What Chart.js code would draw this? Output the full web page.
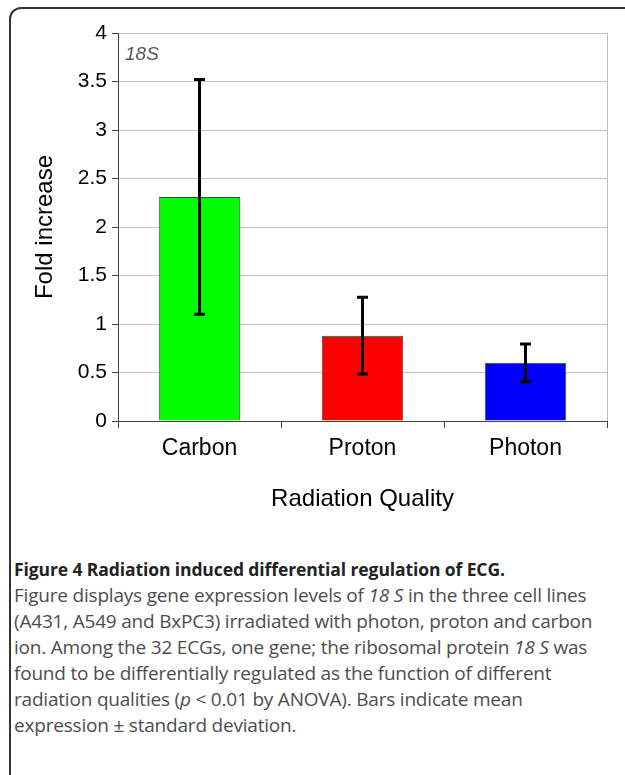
<!DOCTYPE html>
<html>
<head>
<meta charset="utf-8">
<script src="https://cdn.jsdelivr.net/npm/chart.js@4"></script>
<style>
  body { margin: 0; background: #fff; width: 625px; height: 775px; overflow: hidden; position: relative; }
  .frame { position: absolute; left: 9px; top: 7px; width: 660px; height: 775px;
           border: 2px solid #333; border-radius: 12px; }
  #chart { position: absolute; left: 12px; top: 10px; }
  .tag { position: absolute; left: 125px; top: 44px; font: italic 19px "Liberation Sans", Arial, sans-serif;
         color: #555; line-height: 19px; }
  .caption { position: absolute; left: 14px; top: 556px; width: 611px; font-family: "Open Sans", sans-serif;
             color: #4d4d4d; font-size: 19px; line-height: 26px; white-space: nowrap; letter-spacing: -0.2px; }
  .caption b { color: #222; font-size: 17.5px; letter-spacing: -0.1px; }
</style>
</head>
<body>
<div class="frame"></div>
<canvas id="chart" width="613" height="520"></canvas>
<div class="tag">18S</div>
<div class="caption">
  <b>Figure 4 Radiation induced differential regulation of ECG.</b><br>
  Figure displays gene expression levels of <i>18 S</i> in the three cell lines<br>
  (A431, A549 and BxPC3) irradiated with photon, proton and carbon<br>
  ion. Among the 32 ECGs, one gene; the ribosomal protein <i>18 S</i> was<br>
  found to be differentially regulated as the function of different<br>
  radiation qualities (<i>p</i> &lt; 0.01 by ANOVA). Bars indicate mean<br>
  expression ± standard deviation.
</div>
<script>
var categories = ["Carbon", "Proton", "Photon"]
var foldMean = [2.31, 0.88, 0.6]
var foldSD = [1.21, 0.395, 0.195]
var barColors = ["#00ff00", "#ff0000", "#0000ff"]

var font = "'Liberation Sans', Arial, sans-serif"

// error bars drawn from the bar elements + y scale
var errorBars = {
  id: "errorBars",
  afterDatasetsDraw: function (chart) {
    var ctx = chart.ctx
    var y = chart.scales.y
    var bars = chart.getDatasetMeta(0).data
    ctx.save()
    ctx.strokeStyle = "#000"
    ctx.lineWidth = 3
    bars.forEach(function (bar, i) {
      var top = y.getPixelForValue(foldMean[i] + foldSD[i])
      var bot = y.getPixelForValue(foldMean[i] - foldSD[i])
      ctx.beginPath()
      ctx.moveTo(bar.x, top)
      ctx.lineTo(bar.x, bot)
      ctx.moveTo(bar.x - 5.5, top)
      ctx.lineTo(bar.x + 5.5, top)
      ctx.moveTo(bar.x - 5.5, bot)
      ctx.lineTo(bar.x + 5.5, bot)
      ctx.stroke()
    })
    ctx.restore()
  }
}

new Chart(document.getElementById("chart"), {
  type: "bar",
  data: {
    labels: categories,
    datasets: [{
      data: foldMean,
      backgroundColor: barColors,
      borderColor: "#444",
      borderWidth: 1,
      barPercentage: 0.5,
      categoryPercentage: 1
    }]
  },
  options: {
    responsive: false,
    animation: false,
    layout: { padding: { top: 23, right: 18, left: 0, bottom: 0 } },
    plugins: { legend: { display: false }, tooltip: { enabled: false } },
    scales: {
      x: {
        afterFit: function (s) { s.height = 109 },
        border: { color: "#444", width: 1 },
        grid: {
          color: function (c) { return c.type === "tick" ? "rgba(0,0,0,0)" : "#bbb" },
          tickColor: "#444",
          tickLength: 7
        },
        ticks: { color: "#000", font: { family: font, size: 23 }, padding: 7 },
        title: {
          display: true, text: "Radiation Quality", color: "#000",
          font: { family: font, size: 24 }, padding: { top: 0, bottom: 16 }
        }
      },
      y: {
        min: 0,
        max: 4,
        afterFit: function (s) { s.width = 106 },
        border: { color: "#444", width: 1 },
        grid: { color: "#c4c4c4", tickColor: "#444", tickLength: 6 },
        ticks: {
          stepSize: 0.5, color: "#000", font: { family: font, size: 21 }, padding: 5,
          callback: function (v) { return String(v) }
        },
        title: {
          display: true, text: "Fold increase", color: "#000",
          font: { family: font, size: 24 }, padding: { top: 19, bottom: 0 }
        }
      }
    }
  },
  plugins: [errorBars]
})
</script>
</body>
</html>
